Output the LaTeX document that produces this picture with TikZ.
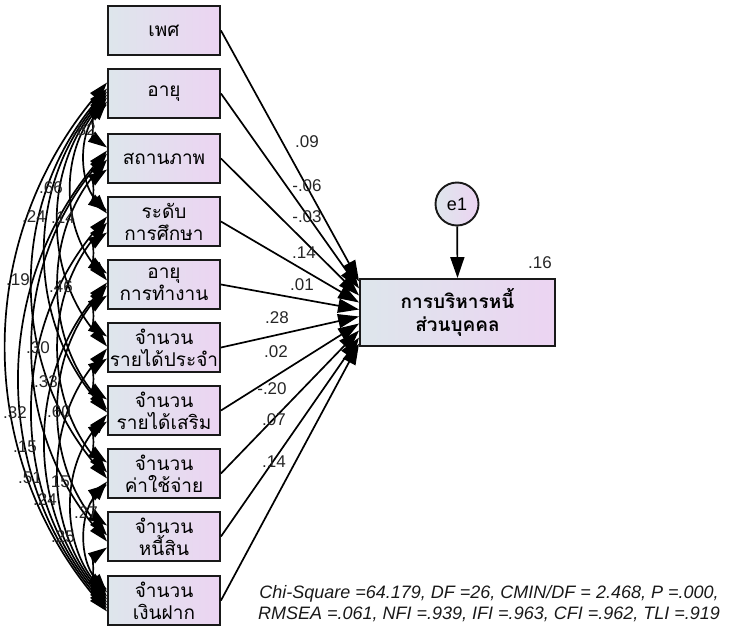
\documentclass[tikz,border=0pt]{standalone}
\usepackage{fontspec}
\setmainfont{Liberation Sans}
\newfontfamily\thaifont[Script=Thai]{Loma}
\usetikzlibrary{arrows.meta,calc,shadings}
\definecolor{boxL}{RGB}{222,230,236}
\definecolor{boxR}{RGB}{236,212,242}
\newcommand\covarc[5]{\draw[cov] ($(#1.west)+(0,#2)$) to[bend right=#5] ($(#3.west)+(0,#4)$);}
\begin{document}
\begin{tikzpicture}[x=1pt,y=-1pt,
  var/.style={draw=black!90, line width=1.9pt, left color=boxL, right color=boxR,
    minimum width=112pt, minimum height=49pt, inner sep=0pt, align=center,
    font=\thaifont\fontsize{19}{22}\selectfont},
  dvbox/.style={var, minimum width=195pt, minimum height=67pt,
    font=\thaifont\bfseries\fontsize{19}{23}\selectfont},
  errc/.style={circle, draw=black!90, line width=1.9pt, left color=boxL, right color=boxR,
    minimum size=43pt, inner sep=0pt, font=\fontsize{18}{20}\selectfont},
  pth/.style={line width=1.7pt, -{Triangle[length=21pt,width=14pt]}},
  cov/.style={line width=1.7pt, {Triangle[length=19pt,width=12pt]}-{Triangle[length=19pt,width=12pt]}},
  lab/.style={inner sep=0pt, text=black!85, font=\fontsize{17}{19}\selectfont},
  fit/.style={inner sep=0pt, align=center, text=black!90, font=\itshape\fontsize{18}{21}\selectfont}
]
\useasboundingbox (0,0) rectangle (730,629);
% observed variables
\node[var] (sex)  at (164,30.5)  {เพศ};
\node[var] (age)  at (164,93.5)  {อายุ};
\node[var] (stat) at (164,158.5) {สถานภาพ};
\node[var] (edu)  at (164,221.5) {ระดับ\\การศึกษา};
\node[var] (work) at (164,284.5) {อายุ\\การทำงาน};
\node[var] (inc)  at (164,347.5) {จำนวน\\รายได้ประจำ};
\node[var] (ext)  at (164,410.5) {จำนวน\\รายได้เสริม};
\node[var] (exp)  at (164,473.5) {จำนวน\\ค่าใช้จ่าย};
\node[var] (debt) at (164,536.5) {จำนวน\\หนี้สิน};
\node[var] (dep)  at (164,600.5) {จำนวน\\เงินฝาก};
% dependent
\node[dvbox] (dv) at (457.5,312.5) {การบริหารหนี้\\ส่วนบุคคล};
\node[errc] (e1) at (457,204) {e1};
\draw[pth] (e1) -- (dv.north);
\node[lab] (r2) at (540,263) {.16};
% paths
\draw[pth] (sex.east)  -- ($(dv.west)+(0,-31)$);
\draw[pth] (age.east)  -- ($(dv.west)+(0,-24)$);
\draw[pth] (stat.east) -- ($(dv.west)+(0,-17)$);
\draw[pth] (edu.east)  -- ($(dv.west)+(0,-10)$);
\draw[pth] (work.east) -- ($(dv.west)+(0,-3)$);
\draw[pth] (inc.east)  -- ($(dv.west)+(0,4)$);
\draw[pth] (ext.east)  -- ($(dv.west)+(0,11)$);
\draw[pth] (exp.east)  -- ($(dv.west)+(0,18)$);
\draw[pth] (debt.east) -- ($(dv.west)+(0,25)$);
\draw[pth] (dep.east)  -- ($(dv.west)+(0,31)$);
\node[lab] (p1)  at (307,142) {.09};
\node[lab] (p2)  at (307,186) {-.06};
\node[lab] (p3)  at (307,217) {-.03};
\node[lab] (p4)  at (304,253) {.14};
\node[lab] (p5)  at (302,285) {.01};
\node[lab] (p6)  at (277,318) {.28};
\node[lab] (p7)  at (276,352) {.02};
\node[lab] (p8)  at (272,389) {-.20};
\node[lab] (p9)  at (274,420) {.07};
\node[lab] (p10) at (274,462) {.14};
% covariances
\covarc{age}{11}{stat}{-11}{55}
\covarc{age}{8}{edu}{-8}{40}
\covarc{age}{4}{work}{-4}{40}
\covarc{age}{1}{inc}{-1}{40}
\covarc{age}{-2}{ext}{2}{40}
\covarc{age}{-5}{exp}{5}{40}
\covarc{age}{-11}{dep}{11}{40}
\covarc{stat}{11}{edu}{-11}{55}
\covarc{stat}{1}{ext}{-1}{40}
\covarc{stat}{-5}{debt}{5}{40}
\covarc{stat}{-8}{dep}{8}{40}
\covarc{edu}{11}{work}{-11}{55}
\covarc{edu}{1}{exp}{-1}{40}
\covarc{edu}{-5}{dep}{5}{40}
\covarc{work}{11}{inc}{-11}{55}
\covarc{work}{1}{debt}{-1}{40}
\covarc{work}{-2}{dep}{2}{40}
\covarc{inc}{11}{ext}{-11}{55}
\covarc{inc}{1}{dep}{-1}{40}
\covarc{ext}{11}{exp}{-11}{55}
\covarc{ext}{4}{dep}{-4}{40}
\covarc{exp}{11}{debt}{-11}{55}
\covarc{exp}{8}{dep}{-8}{40}
\covarc{debt}{11}{dep}{-11}{55}
\node[lab] (c1)  at (84,130)  {.82};
\node[lab] (c2)  at (51,188)  {.66};
\node[lab] (c3)  at (34,217)  {.24};
\node[lab] (c4)  at (63,218)  {.14};
\node[lab] (c5)  at (18,280)  {.19};
\node[lab] (c6)  at (61,287)  {.46};
\node[lab] (c7)  at (38,348)  {.30};
\node[lab] (c8)  at (46,382)  {.33};
\node[lab] (c9)  at (15,413)  {.32};
\node[lab] (c10) at (59,412)  {.60};
\node[lab] (c11) at (25,447)  {.15};
\node[lab] (c12) at (30,478)  {.51};
\node[lab] (c13) at (58,482)  {.15};
\node[lab] (c14) at (45,500)  {.24};
\node[lab] (c15) at (86,513)  {.27};
\node[lab] (c16) at (63,537)  {.25};
% fit indices
\node[fit] (fitidx) at (489,604) {Chi-Square =64.179, DF =26, CMIN/DF = 2.468, P =.000,\\RMSEA =.061, NFI =.939, IFI =.963, CFI =.962, TLI =.919};
\end{tikzpicture}
\end{document}
